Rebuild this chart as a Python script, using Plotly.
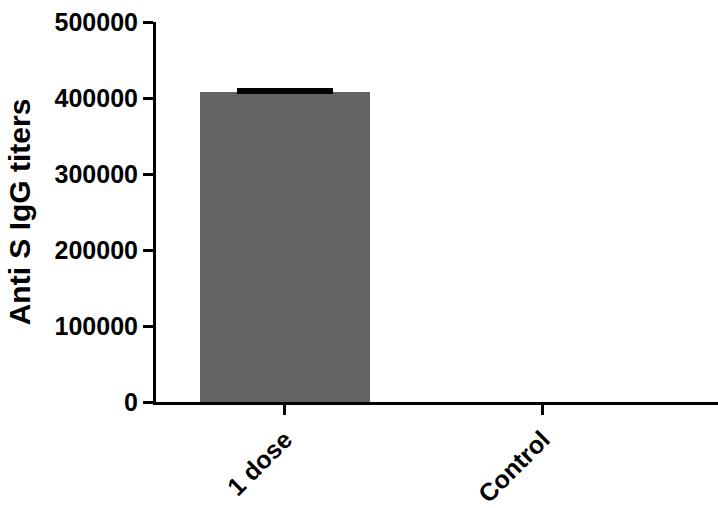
import plotly.graph_objects as go

categories = ["1 dose", "Control"]
means = [408000, 0]
errors_up = [1500, 0]
y_ticks = [0, 100000, 200000, 300000, 400000, 500000]
y_tick_labels = ["0", "100000", "200000", "300000", "400000", "500000"]

FONT = "Liberation Sans, Arial, sans-serif"

fig = go.Figure()
for i, (m, e) in enumerate(zip(means, errors_up)):
    fig.add_trace(go.Bar(
        x=[i],
        y=[m],
        width=0.66,
        marker=dict(color="#636363", line=dict(width=0)),
        error_y=dict(type="data", symmetric=False, array=[e],
                     arrayminus=[0], color="black", thickness=5, width=48,
                     visible=e > 0),
        showlegend=False,
    ))

fig.update_layout(
    width=718, height=508,
    margin=dict(l=156, r=0, t=22, b=106),
    paper_bgcolor="white", plot_bgcolor="white",
    font=dict(family=FONT, color="black"),
    bargap=0, barmode="overlay",
)
fig.update_xaxes(
    range=[-0.5, 1.68],
    tickmode="array", tickvals=[0, 1], ticktext=categories,
    tickangle=-45,
    tickfont=dict(family=FONT, size=25, weight="bold", color="black"),
    showline=True, linecolor="black", linewidth=3,
    ticks="outside", ticklen=10, tickwidth=3, tickcolor="black",
    showgrid=False, zeroline=False,
)
fig.update_yaxes(
    range=[0, 500000],
    tickmode="array", tickvals=y_ticks, ticktext=y_tick_labels,
    tickfont=dict(family=FONT, size=25, weight="bold", color="black"),
    showline=True, linecolor="black", linewidth=3,
    ticks="outside", ticklen=10, tickwidth=3, tickcolor="black",
    showgrid=False, zeroline=False,
    title=dict(text="Anti S IgG titers", standoff=16,
               font=dict(family=FONT, size=30, weight="bold", color="black")),
)

fig.write_html("out.html")
